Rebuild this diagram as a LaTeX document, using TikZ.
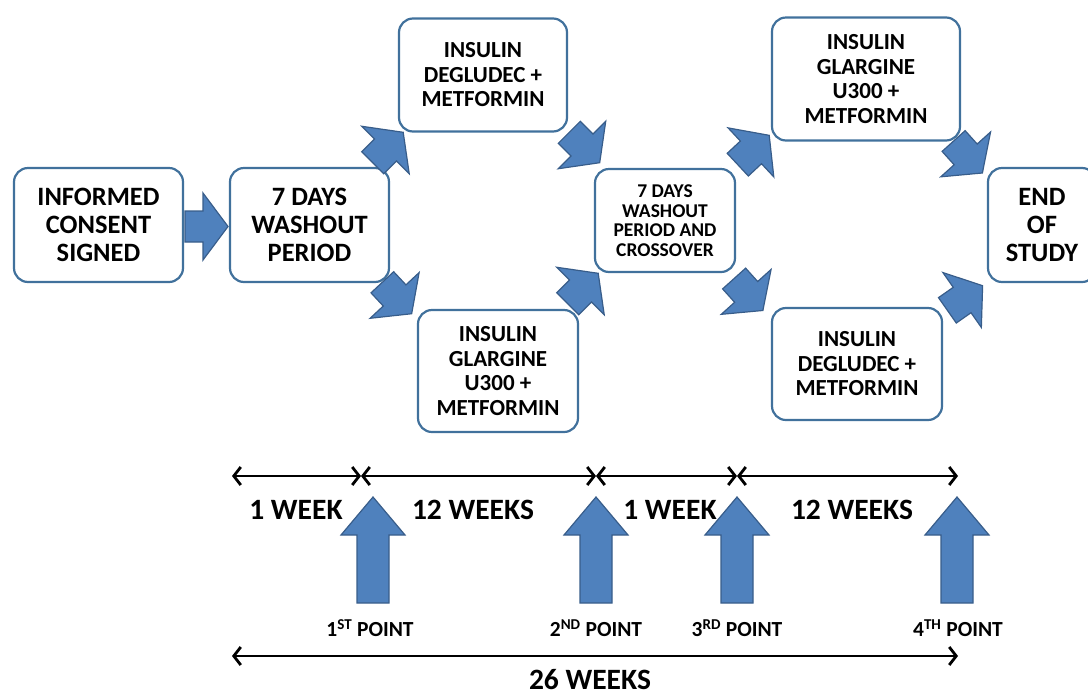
\documentclass[tikz,border=0pt]{standalone}
\usepackage{fontspec}
\setmainfont{Carlito}
\usetikzlibrary{arrows.meta}

\definecolor{boxblue}{RGB}{65,113,156}
\definecolor{arrowfill}{RGB}{79,129,189}
\definecolor{arrowedge}{RGB}{56,93,138}

\tikzset{
  stagebox/.style = {draw=boxblue, line width=2.2pt, rounded corners=14pt,
                     fill=white, align=center, inner sep=2pt,
                     font=\bfseries\fontsize{26.5}{28}\selectfont},
  armbox/.style   = {stagebox, font=\bfseries\fontsize{23}{24.5}\selectfont},
  blockfill/.style = {fill=arrowfill, draw=arrowedge, line width=1.2pt, line join=miter},
  fatarrow/.pic = {\path[blockfill] (-21.5,-15.5) -- (-3.5,-15.5) -- (-3.5,-33.5)
                     -- (21.5,0) -- (-3.5,33.5) -- (-3.5,15.5) -- (-21.5,15.5) -- cycle;},
  uparrow/.pic  = {\path[blockfill] (0,0) -- (32,38) -- (16,38) -- (16,106)
                     -- (-16,106) -- (-16,38) -- (-32,38) -- cycle;},
  spanline/.style = {line width=2.8pt,
                     {Straight Barb[length=7pt,width=18pt]}-{Straight Barb[length=7pt,width=18pt]}},
  weeklabel/.style  = {font=\bfseries\fontsize{29.5}{32}\selectfont},
  pointlabel/.style = {font=\bfseries\fontsize{21.5}{24}\selectfont}
}

\begin{document}
\begin{tikzpicture}[x=1pt,y=-1pt]
\useasboundingbox (0,0) rectangle (1088,697);

% study stages
\node[stagebox, minimum width=169pt, minimum height=114pt] (consent) at (98.5,225)
  {INFORMED\\CONSENT\\SIGNED};
\node[stagebox, minimum width=159pt, minimum height=114pt] (washout) at (309.5,225)
  {7 DAYS\\WASHOUT\\PERIOD};
\node[armbox, minimum width=168pt, minimum height=113pt] (degA) at (483,75)
  {INSULIN\\DEGLUDEC +\\METFORMIN};
\node[armbox, minimum width=160pt, minimum height=122pt] (glaA) at (498,371)
  {INSULIN\\GLARGINE\\U300 +\\METFORMIN};
\node[stagebox, font=\bfseries\fontsize{19.5}{19.5}\selectfont,
      minimum width=140pt, minimum height=103pt] (cross) at (665,220.5)
  {7 DAYS\\WASHOUT\\PERIOD AND\\CROSSOVER};
\node[armbox, minimum width=188pt, minimum height=123pt] (glaB) at (866,79)
  {INSULIN\\GLARGINE\\U300 +\\METFORMIN};
\node[armbox, minimum width=170pt, minimum height=112pt] (degB) at (857,364)
  {INSULIN\\DEGLUDEC +\\METFORMIN};
\node[stagebox, minimum width=108pt, minimum height=114pt] (endst) at (1042,225)
  {END\\OF\\STUDY};

% block arrows between stages
\pic at (206.5,226.5) {fatarrow};
\pic[rotate=45]  at (388,147.5) {fatarrow};
\pic[rotate=-47] at (397,298) {fatarrow};
\pic[rotate=-45] at (584.5,147.5) {fatarrow};
\pic[rotate=45]  at (583,288.5) {fatarrow};
\pic[rotate=43]  at (753.5,150) {fatarrow};
\pic[rotate=-48] at (748.5,294.5) {fatarrow};
\pic[rotate=-48] at (968,157) {fatarrow};
\pic[rotate=35]  at (965,298) {fatarrow};

% time line
\coordinate (t0) at (232,476);
\coordinate (t1) at (361,476);
\coordinate (t2) at (596,476);
\coordinate (t3) at (737,476);
\coordinate (t4) at (958,476);
\coordinate (w0) at (232,656);
\coordinate (w4) at (958,656);

\draw[spanline] (t0) -- (t1);
\draw[spanline] (t1) -- (t2);
\draw[spanline] (t2) -- (t3);
\draw[spanline] (t3) -- (t4);
\draw[spanline] (w0) -- (w4);

\node[weeklabel] (wk1) at (296,510) {1 WEEK};
\node[weeklabel] (wk2) at (473,510) {12 WEEKS};
\node[weeklabel] (wk3) at (670,510) {1 WEEK};
\node[weeklabel] (wk4) at (852,510) {12 WEEKS};
\node[weeklabel] (wk26) at (590,680) {26 WEEKS};

% assessment points
\pic at (373,497) {uparrow};
\pic at (596,497) {uparrow};
\pic at (737,497) {uparrow};
\pic at (957,497) {uparrow};

\node[pointlabel] (p1) at (370,628) {1\textsuperscript{ST} POINT};
\node[pointlabel] (p2) at (596,628) {2\textsuperscript{ND} POINT};
\node[pointlabel] (p3) at (737,628) {3\textsuperscript{RD} POINT};
\node[pointlabel] (p4) at (958,628) {4\textsuperscript{TH} POINT};

\end{tikzpicture}
\end{document}
